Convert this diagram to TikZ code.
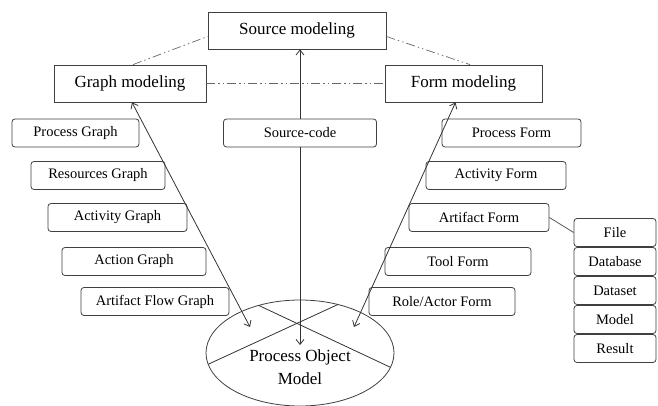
\documentclass[tikz,border=0pt]{standalone}
\usepackage{fontspec}
\setmainfont{Liberation Serif}
\usetikzlibrary{shapes.geometric,arrows.meta}

\begin{document}
\begin{tikzpicture}[x=1pt,y=-1pt,
		modelbox/.style={draw=black!75,line width=0.8pt,fill=white,minimum height=37pt,font=\fontsize{17}{20}\selectfont},
		partbox/.style={draw=black!75,line width=0.8pt,rounded corners=3pt,fill=white,minimum height=28pt,font=\fontsize{14.5}{17}\selectfont},
		kindbox/.style={partbox,minimum width=82pt},
		link/.style={draw=black!80,line width=0.8pt},
		dashdot/.style={draw=black!60,line width=0.7pt,dash pattern=on 9pt off 3pt on 1.5pt off 3pt on 1.5pt off 3pt},
		>={Straight Barb[length=5pt,width=8pt]}]
		\useasboundingbox (0,0) rectangle (658,406);
		% the three modeling views
		\node [modelbox,minimum width=178pt] (src) at (297,30.5) {Source modeling};
		\node [modelbox,minimum width=152pt] (graph) at (130,83.5) {Graph modeling};
		\node [modelbox,minimum width=157pt] (form) at (463.5,83.5) {Form modeling};
		% graph side
		\node [partbox,minimum width=127pt] (pgraph) at (75.5,133) {Process Graph};
		\node [partbox,minimum width=134pt] (rgraph) at (98,175.5) {Resources Graph};
		\node [partbox,minimum width=139pt] (agraph) at (117.5,217.5) {Activity Graph};
		\node [partbox,minimum width=144pt] (acgraph) at (134,261.5) {Action Graph};
		\node [partbox,minimum width=148pt] (afgraph) at (155,301.5) {Artifact Flow Graph};
		% source side
		\node [partbox,minimum width=153pt] (scode) at (300,133) {Source-code};
		% form side
		\node [partbox,minimum width=139pt] (pform) at (511.5,133) {Process Form};
		\node [partbox,minimum width=140pt] (acform) at (496,175.5) {Activity Form};
		\node [partbox,minimum width=140pt] (arform) at (479,217.5) {Artifact Form};
		\node [partbox,minimum width=146pt] (tform) at (458,261.5) {Tool Form};
		\node [partbox,minimum width=146pt] (rform) at (442,301.5) {Role/Actor Form};
		% artifact kinds
		\node [kindbox] (file) at (615,232.5) {File};
		\node [kindbox] (dbase) at (615,261.5) {Database};
		\node [kindbox] (dset) at (615,290.5) {Dataset};
		\node [kindbox] (model) at (615,319.5) {Model};
		\node [kindbox] (result) at (615,348.5) {Result};
		% process object model
		\node [draw=black!75,line width=0.8pt,ellipse,minimum width=188pt,minimum height=106pt,inner sep=0pt,outer sep=0pt] (pom) at (300,353) {};
		\node [align=center,font=\fontsize{17}{23}\selectfont] (pomtext) at (300,367) {Process Object\\Model};
		\draw [link] (pom.131) -- (pom.-9);
		\draw [link] (pom.187) -- (pom.52);
		\coordinate (pomtop) at (300,345);
		\coordinate (gtip) at (250,327);
		\coordinate (ftip) at (354,327);
		% dash-dot relations
		\draw [dashdot] ([xshift=3pt]graph.north) -- ([yshift=-6pt]src.west);
		\draw [dashdot] ([yshift=-6pt]src.east) -- ([xshift=6.5pt]form.north);
		\draw [dashdot] (graph.east) -- (form.west);
		% arrows
		\draw [link,->] (scode.south) -- (pomtop);
		\draw [link,->] (scode.north) -- (scode.north |- src.south);
		\draw [link,<->] ([xshift=2pt]graph.south) -- (gtip);
		\draw [link,<->] ([xshift=-8pt]form.south) -- (ftip);
		\draw [link,draw=black!65] (arform.east) -- (file.west);
\end{tikzpicture}
\end{document}
